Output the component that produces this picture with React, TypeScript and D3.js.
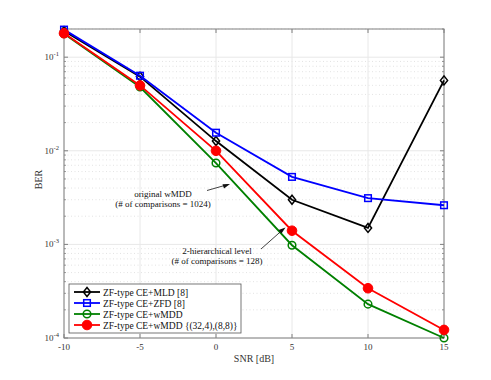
import React from "react";
import * as d3 from "d3";

// data
const snr = [-10, -5, 0, 5, 10, 15];
const berMLD = [0.19, 0.062, 0.0127, 0.003, 0.0015, 0.0565];
const berZFD = [0.197, 0.0634, 0.0156, 0.00526, 0.00312, 0.00262];
const berWMDD = [0.178, 0.048, 0.0074, 0.00098, 0.00023, 0.0001];
const berHier = [0.18, 0.0499, 0.01, 0.0014, 0.00034, 0.000122];

const xTicks = [-10, -5, 0, 5, 10, 15];
const yDecades = [-4, -3, -2, -1];

const series = [
  { name: "ZF-type CE+MLD [8]", values: berMLD, color: "#000000", marker: "diamond" },
  { name: "ZF-type CE+ZFD [8]", values: berZFD, color: "#0000ff", marker: "square" },
  { name: "ZF-type CE+wMDD", values: berWMDD, color: "#008000", marker: "circle" },
  { name: "ZF-type CE+wMDD {(32,4),(8,8)}", values: berHier, color: "#ff0000", marker: "dot" },
];

const W = 491;
const H = 380;
const margin = { top: 29, right: 47, bottom: 42, left: 64 };
const innerW = W - margin.left - margin.right;
const innerH = H - margin.top - margin.bottom;
const font = "'Liberation Serif', 'Times New Roman', serif";

function Marker({ type, x, y, color }: { type: string; x: number; y: number; color: string }) {
  if (type === "diamond") {
    const s = 4.5;
    return (
      <path
        d={`M${x},${y - s}L${x + s * 0.8},${y}L${x},${y + s}L${x - s * 0.8},${y}Z`}
        fill="none"
        stroke={color}
        strokeWidth={1.5}
      />
    );
  }
  if (type === "square") {
    const s = 3.3;
    return <rect x={x - s} y={y - s} width={2 * s} height={2 * s} fill="none" stroke={color} strokeWidth={1.5} />;
  }
  if (type === "circle") {
    return <circle cx={x} cy={y} r={3.8} fill="none" stroke={color} strokeWidth={1.5} />;
  }
  return <circle cx={x} cy={y} r={4.8} fill={color} stroke={color} strokeWidth={1} />;
}

export default function App() {
  const x = d3.scaleLinear().domain([-10, 15]).range([0, innerW]);
  const y = d3.scaleLog().domain([1e-4, 0.2]).range([innerH, 0]);

  const line = d3
    .line<number>()
    .x((_, i) => x(snr[i]))
    .y((d) => y(d));

  // minor ticks 2..9 per decade
  const minor: number[] = [];
  yDecades.forEach((e) => {
    for (let k = 2; k <= 9; k++) {
      const v = k * Math.pow(10, e);
      if (v <= 0.2) minor.push(v);
    }
  });

  const legendX = 5;
  const legendY = innerH - 54;

  return (
    <svg width={W} height={H} style={{ display: "block", position: "absolute", left: 0, top: 0 }}>
      <rect width={W} height={H} fill="#fff" />
      <g transform={`translate(${margin.left},${margin.top})`} fontFamily={font}>
        {/* grid */}
        {minor.map((v) => (
          <line key={"m" + v} x1={0} x2={innerW} y1={y(v)} y2={y(v)} stroke="#d0d0d0" strokeWidth={0.6} strokeDasharray="1,2.5" />
        ))}
        {yDecades.map((e) => (
          <line key={"g" + e} x1={0} x2={innerW} y1={y(Math.pow(10, e))} y2={y(Math.pow(10, e))} stroke="#e8e8e8" strokeWidth={1} />
        ))}
        {xTicks.map((t) => (
          <line key={"gx" + t} x1={x(t)} x2={x(t)} y1={0} y2={innerH} stroke="#e8e8e8" strokeWidth={1} />
        ))}

        {/* ticks */}
        {xTicks.map((t) => (
          <g key={"tx" + t}>
            <line x1={x(t)} x2={x(t)} y1={innerH} y2={innerH - 4} stroke="#808080" />
            <line x1={x(t)} x2={x(t)} y1={0} y2={4} stroke="#808080" />
            <text x={x(t)} y={innerH + 12} textAnchor="middle" fontSize={9} fill="#333">
              {t}
            </text>
          </g>
        ))}
        {minor.map((v) => (
          <g key={"tm" + v}>
            <line x1={0} x2={2} y1={y(v)} y2={y(v)} stroke="#808080" strokeWidth={0.8} />
            <line x1={innerW} x2={innerW - 2} y1={y(v)} y2={y(v)} stroke="#808080" strokeWidth={0.8} />
          </g>
        ))}
        {yDecades.map((e) => (
          <g key={"ty" + e}>
            <line x1={0} x2={4} y1={y(Math.pow(10, e))} y2={y(Math.pow(10, e))} stroke="#808080" />
            <line x1={innerW} x2={innerW - 4} y1={y(Math.pow(10, e))} y2={y(Math.pow(10, e))} stroke="#808080" />
            <text x={-5} y={y(Math.pow(10, e)) + 3} textAnchor="end" fontSize={9} fill="#333">
              10
              <tspan dy={-4} fontSize={6.5}>
                {e}
              </tspan>
            </text>
          </g>
        ))}
        <rect x={0} y={0} width={innerW} height={innerH} fill="none" stroke="#808080" strokeWidth={1} />

        {/* series */}
        {series.map((s) => (
          <g key={s.name}>
            <path d={line(s.values) || ""} fill="none" stroke={s.color} strokeWidth={1.8} />
            {s.values.map((v, i) => (
              <Marker key={i} type={s.marker} x={x(snr[i])} y={y(v)} color={s.color} />
            ))}
          </g>
        ))}

        {/* annotations */}
        <text x={99} y={168} textAnchor="middle" fontSize={9} fill="#111">
          original wMDD
        </text>
        <text x={99} y={178} textAnchor="middle" fontSize={9} fill="#111">
          (# of comparisons = 1024)
        </text>
        <line x1={143} y1={161.5} x2={164} y2={155.5} stroke="#111" strokeWidth={0.8} />
        <path d="M166,155L158.5,155.3L160,159.5Z" fill="#111" />

        <text x={153} y={225} textAnchor="middle" fontSize={9} fill="#111">
          2-hierarchical level
        </text>
        <text x={153} y={235} textAnchor="middle" fontSize={9} fill="#111">
          (# of comparisons = 128)
        </text>
        <line x1={197} y1={220} x2={219} y2={200.5} stroke="#111" strokeWidth={0.8} />
        <path d="M221.5,198.5L214.5,201L217.5,204.5Z" fill="#111" />

        {/* legend */}
        <g transform={`translate(${legendX},${legendY})`}>
          <rect x={0} y={0} width={172} height={49} fill="#fff" stroke="#555" strokeWidth={0.8} />
          {series.map((s, i) => (
            <g key={"l" + s.name} transform={`translate(0,${8 + i * 11})`}>
              <line x1={5} x2={31} y1={0} y2={0} stroke={s.color} strokeWidth={1.8} />
              <Marker type={s.marker} x={18} y={0} color={s.color} />
              <text x={34} y={3.5} fontSize={9.5} fill="#111">
                {s.name}
              </text>
            </g>
          ))}
        </g>

        {/* axis labels */}
        <text x={innerW / 2} y={innerH + 24} textAnchor="middle" fontSize={10} fill="#333">
          SNR [dB]
        </text>
        <text transform={`translate(-22,${innerH / 2 - 4}) rotate(-90)`} textAnchor="middle" fontSize={10} fill="#333">
          BER
        </text>
      </g>
    </svg>
  );
}
